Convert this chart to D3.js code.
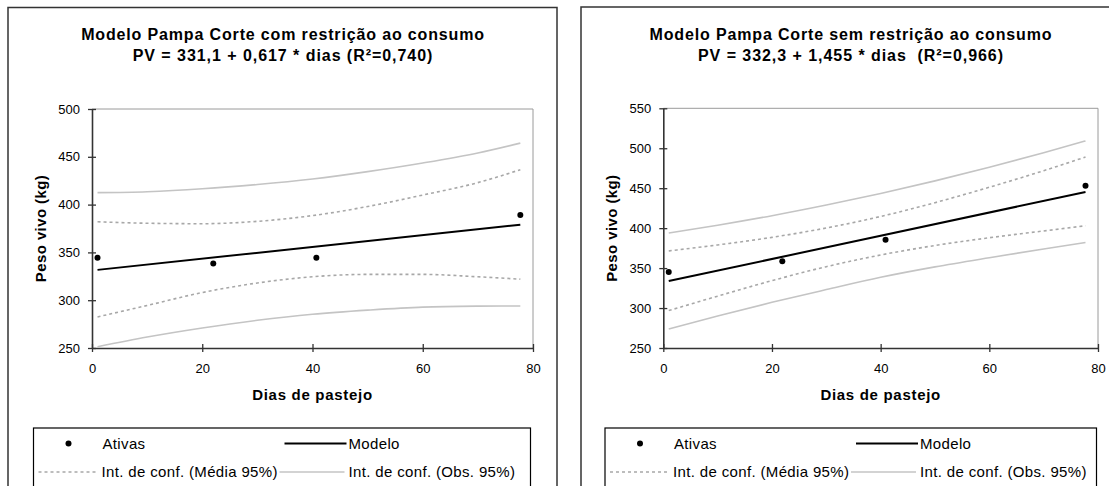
<!DOCTYPE html>
<html>
<head>
<meta charset="utf-8">
<script src="https://cdn.jsdelivr.net/npm/d3@7"></script>
<style>
  html, body { margin: 0; padding: 0; background: #fff; }
  svg { display: block; font-family: "Liberation Sans", Arial, sans-serif; }
</style>
</head>
<body>
<svg id="chart" width="1109" height="486"></svg>
<script>
// ---- data -------------------------------------------------------------
const xTicks = [0, 20, 40, 60, 80];
const yTicksCom = [250, 300, 350, 400, 450, 500];
const yTicksSem = [250, 300, 350, 400, 450, 500, 550];

// observed weights (Ativas)
const diasCom = [1, 22, 40.7, 77.7];
const pesoCom = [344.5, 338.5, 344.5, 389];
const diasSem = [1, 21.9, 40.9, 77.7];
const pesoSem = [345, 358.5, 385.5, 453];

// fitted models, as given in the titles
const interceptCom = 331.1, slopeCom = 0.617;
const interceptSem = 332.3, slopeSem = 1.455;
const modelRange = [1, 77.7];

// confidence bands, read along the grazing days
const diasBanda = [1, 10, 20, 30, 40, 50, 60, 70, 77.7];
const mediaSupCom = [382, 380.5, 380, 382.5, 388.5, 398, 410, 423, 436.5];
const mediaInfCom = [282.5, 294.5, 308, 318, 324.5, 327, 327, 324.5, 322];
const obsSupCom   = [412.5, 413.5, 416.5, 421, 426.8, 434.5, 443.5, 454, 464.3];
const obsInfCom   = [251.3, 261.5, 271, 279, 285.3, 289.6, 292.8, 293.8, 294];
const mediaSupSem = [371.5, 379, 388.5, 400.2, 414.6, 431.9, 451.2, 471.9, 489];
const mediaInfSem = [296.8, 314.9, 334.3, 351.8, 366.4, 378.3, 388, 396.5, 403];
const obsSupSem   = [394, 403.7, 415.6, 428.9, 443.4, 459.2, 476.2, 494.4, 509.2];
const obsInfSem   = [273.8, 290.1, 307.2, 323.1, 338.5, 351.5, 363, 374, 382];

const legendLabels = ["Ativas", "Modelo", "Int. de conf. (Média 95%)", "Int. de conf. (Obs. 95%)"];

// ---- layout -----------------------------------------------------------
const panels = [
  {
    title: "Modelo Pampa Corte com restrição ao consumo",
    eq: "PV = 331,1 + 0,617 * dias (R²=0,740)",
    box: {x: 8, y: 7.5, w: 549},
    plot: {x0: 92, x1: 533, y0: 109, y1: 348},
    yDomain: [250, 500], yTicks: yTicksCom,
    titleX: 283, yTitleX: 46,
    legend: {x: 33.5, w: 497},
    dias: diasCom, peso: pesoCom,
    a: interceptCom, b: slopeCom,
    bands: [[mediaSupCom, "media"], [mediaInfCom, "media"], [obsSupCom, "obs"], [obsInfCom, "obs"]]
  },
  {
    title: "Modelo Pampa Corte sem restrição ao consumo",
    eq: "PV = 332,3 + 1,455 * dias\u00a0\u00a0(R²=0,966)",
    box: {x: 581, y: 7, w: 545},
    plot: {x0: 663.3, x1: 1098, y0: 108.3, y1: 348},
    yDomain: [250, 550], yTicks: yTicksSem,
    titleX: 851, yTitleX: 617,
    legend: {x: 605, w: 491.5},
    dias: diasSem, peso: pesoSem,
    a: interceptSem, b: slopeSem,
    bands: [[mediaSupSem, "media"], [mediaInfSem, "media"], [obsSupSem, "obs"], [obsInfSem, "obs"]]
  }
];

const svg = d3.select("#chart");
const bandStyle = {
  media: {stroke: "#a8a8a8", dash: "3,3"},
  obs:   {stroke: "#c4c4c4", dash: null}
};

panels.forEach(p => {
  const g = svg.append("g");

  // chart frame
  g.append("rect")
    .attr("x", p.box.x).attr("y", p.box.y)
    .attr("width", p.box.w).attr("height", 520)
    .attr("fill", "none").attr("stroke", "#333").attr("stroke-width", 1.5);

  // titles
  g.append("text").attr("x", p.titleX).attr("y", 40)
    .attr("text-anchor", "middle").attr("font-weight", "bold")
    .attr("font-size", 16).attr("letter-spacing", 0.85).attr("fill", "#000")
    .text(p.title);
  g.append("text").attr("x", p.titleX).attr("y", 61)
    .attr("text-anchor", "middle").attr("font-weight", "bold")
    .attr("font-size", 16).attr("letter-spacing", 0.95).attr("fill", "#000")
    .text(p.eq);

  const x = d3.scaleLinear().domain([0, 80]).range([p.plot.x0, p.plot.x1]);
  const y = d3.scaleLinear().domain(p.yDomain).range([p.plot.y1, p.plot.y0]);

  // plot area outline (top and right)
  g.append("path")
    .attr("d", `M${p.plot.x0},${p.plot.y0}H${p.plot.x1}V${p.plot.y1}`)
    .attr("fill", "none").attr("stroke", "#9a9a9a").attr("stroke-width", 1);

  // axes with crossing tick marks
  const yAxis = d3.axisLeft(y).tickValues(p.yTicks).tickSize(4).tickPadding(8).tickSizeOuter(0);
  const xAxis = d3.axisBottom(x).tickValues(xTicks).tickSize(4).tickPadding(12).tickSizeOuter(0);

  const gy = g.append("g").attr("transform", `translate(${p.plot.x0},0)`).call(yAxis);
  const gx = g.append("g").attr("transform", `translate(0,${p.plot.y1})`).call(xAxis);
  [gy, gx].forEach(ax => {
    ax.select(".domain").attr("stroke", "#333").attr("stroke-width", 1.6);
    ax.selectAll(".tick line").attr("stroke", "#333").attr("stroke-width", 1.3);
    ax.selectAll(".tick text").attr("font-size", 13).attr("fill", "#000")
      .attr("font-family", "'Liberation Sans', Arial, sans-serif");
  });
  gy.selectAll(".tick line").attr("x1", 4).attr("x2", -4);
  gx.selectAll(".tick line").attr("y1", -4).attr("y2", 4);

  // axis titles
  g.append("text")
    .attr("transform", `translate(${p.yTitleX},${(p.plot.y0 + p.plot.y1) / 2}) rotate(-90)`)
    .attr("text-anchor", "middle").attr("font-weight", "bold").attr("font-size", 15)
    .attr("letter-spacing", 0.4)
    .text("Peso vivo (kg)");
  g.append("text")
    .attr("x", (p.plot.x0 + p.plot.x1) / 2).attr("y", 400)
    .attr("text-anchor", "middle").attr("font-weight", "bold").attr("font-size", 15)
    .attr("letter-spacing", 0.7)
    .text("Dias de pastejo");

  // confidence bands
  const line = d3.line().x(d => x(d[0])).y(d => y(d[1])).curve(d3.curveMonotoneX);
  p.bands.forEach(([vals, kind]) => {
    g.append("path")
      .datum(diasBanda.map((d, i) => [d, vals[i]]))
      .attr("d", line)
      .attr("fill", "none")
      .attr("stroke", bandStyle[kind].stroke)
      .attr("stroke-width", 1.6)
      .attr("stroke-dasharray", bandStyle[kind].dash);
  });

  // fitted model
  g.append("path")
    .datum(modelRange.map(d => [d, p.a + p.b * d]))
    .attr("d", d3.line().x(d => x(d[0])).y(d => y(d[1])))
    .attr("fill", "none").attr("stroke", "#000").attr("stroke-width", 2);

  // observations
  g.selectAll("circle.obs")
    .data(p.dias.map((d, i) => [d, p.peso[i]]))
    .join("circle").attr("class", "obs")
    .attr("cx", d => x(d[0])).attr("cy", d => y(d[1]))
    .attr("r", 3).attr("fill", "#000");

  // legend
  const L = g.append("g").attr("transform", `translate(${p.legend.x},428)`);
  L.append("rect").attr("x", 0).attr("y", 0).attr("width", p.legend.w).attr("height", 80)
    .attr("fill", "#fff").attr("stroke", "#000").attr("stroke-width", 1.2);
  const r1 = 15.5, r2 = 44;
  L.append("circle").attr("cx", 35).attr("cy", r1).attr("r", 3).attr("fill", "#000");
  L.append("line").attr("x1", 251).attr("x2", 313).attr("y1", r1).attr("y2", r1)
    .attr("stroke", "#000").attr("stroke-width", 2);
  L.append("line").attr("x1", 5).attr("x2", 63).attr("y1", r2).attr("y2", r2)
    .attr("stroke", bandStyle.media.stroke).attr("stroke-width", 1.6).attr("stroke-dasharray", "3,3");
  L.append("line").attr("x1", 246).attr("x2", 311).attr("y1", r2).attr("y2", r2)
    .attr("stroke", bandStyle.obs.stroke).attr("stroke-width", 1.6);
  const pos = [[69, r1], [315, r1], [68, r2], [315, r2]];
  legendLabels.forEach((t, i) => {
    L.append("text").attr("x", pos[i][0]).attr("y", pos[i][1]).attr("dy", "0.35em")
      .attr("font-size", 15).attr("letter-spacing", 0.35).attr("fill", "#000").text(t);
  });
});
</script>
</body>
</html>
